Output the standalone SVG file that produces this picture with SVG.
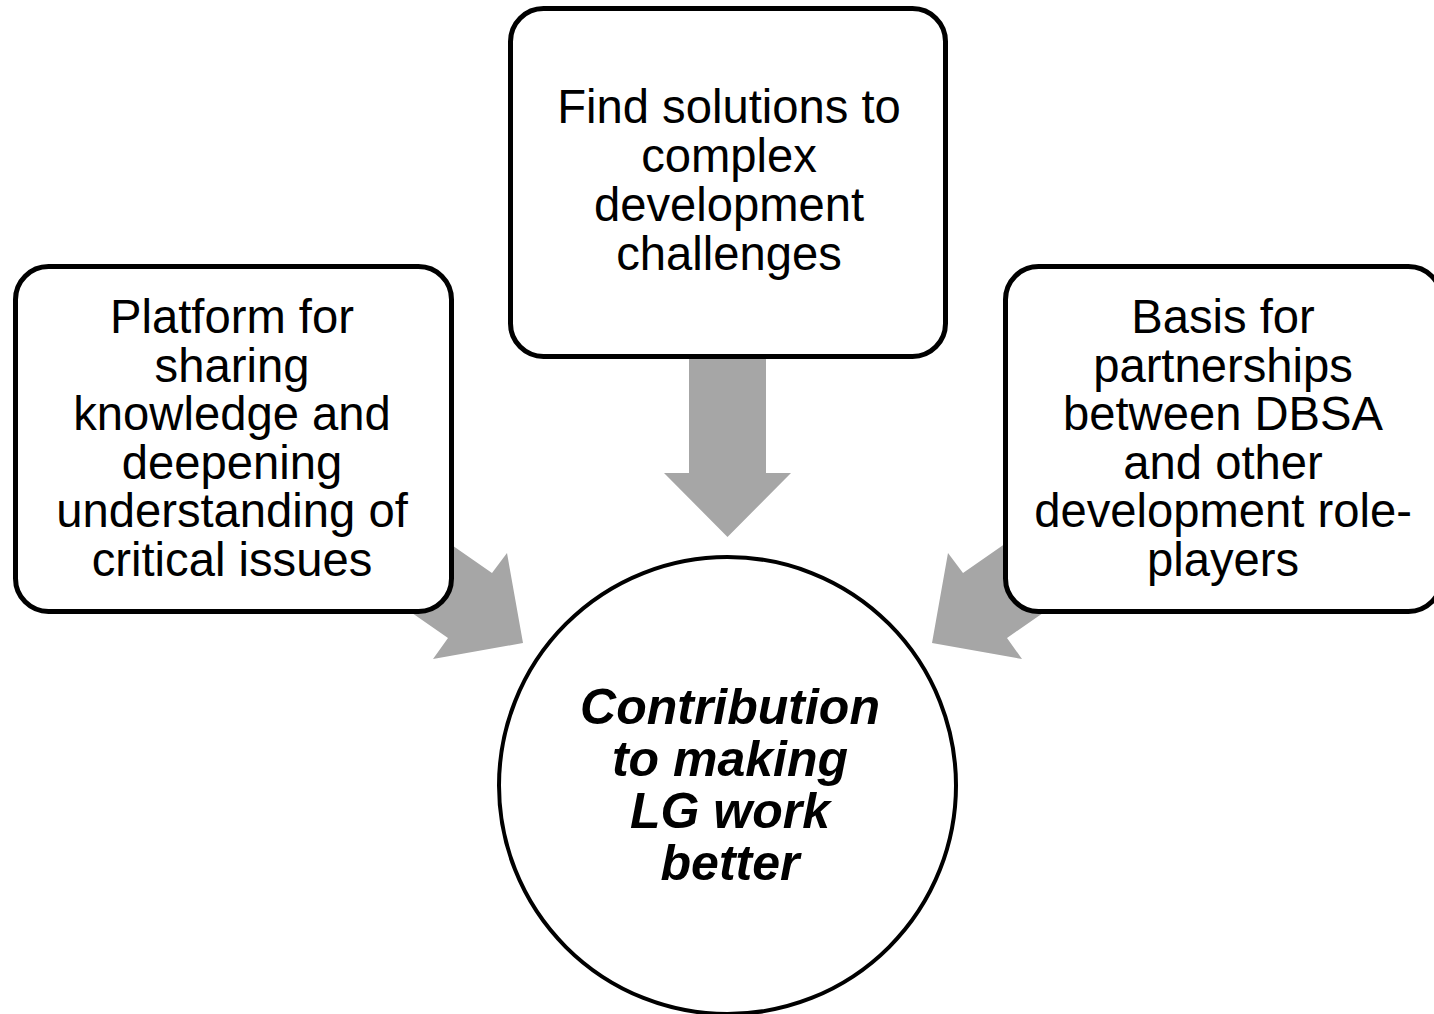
<svg xmlns="http://www.w3.org/2000/svg" width="1434" height="1014" viewBox="0 0 1434 1014">
  <style>
    .box { fill: #ffffff; stroke: #000000; stroke-width: 5; }
    .hub { fill: #ffffff; stroke: #000000; stroke-width: 4; }
    .arrow { fill: #a6a6a6; stroke: none; }
    .label { font-family: "Liberation Sans", Arial, sans-serif; font-size: 47.2px; fill: #000000; text-anchor: middle; }
    .hub-label { font-family: "Liberation Sans", Arial, sans-serif; font-size: 50px; font-weight: bold; font-style: italic; fill: #000000; text-anchor: middle; }
  </style>
  <rect width="1434" height="1014" fill="#ffffff"/>

  <!-- block arrows pointing into the central circle -->
  <g id="connectors">
    <polygon class="arrow" points="689,340 766,340 766,473 791,473 727.5,537 664,473 689,473"/>
    <polygon class="arrow" points="410,516 492,573 507,553 523,643 433,659 448,638 366,581"/>
    <polygon class="arrow" points="1045,516 963,573 948,553 932,643 1022,659 1007,638 1089,581"/>
  </g>

  <g id="node-solutions">
    <rect class="box" x="510.5" y="8.5" width="435" height="348" rx="33" ry="33"/>
    <text class="label" x="729" y="123">Find solutions to</text>
    <text class="label" x="729" y="172">complex</text>
    <text class="label" x="729" y="221">development</text>
    <text class="label" x="729" y="270">challenges</text>
  </g>

  <g id="node-platform">
    <rect class="box" x="15.5" y="266.5" width="436" height="345" rx="33" ry="33"/>
    <text class="label" x="232" y="333">Platform for</text>
    <text class="label" x="232" y="381.5">sharing</text>
    <text class="label" x="232" y="430">knowledge and</text>
    <text class="label" x="232" y="478.5">deepening</text>
    <text class="label" x="232" y="527">understanding of</text>
    <text class="label" x="232" y="575.5">critical issues</text>
  </g>

  <g id="node-partnerships">
    <rect class="box" x="1005.5" y="266.5" width="436" height="345" rx="33" ry="33"/>
    <text class="label" x="1223" y="333">Basis for</text>
    <text class="label" x="1223" y="381.5">partnerships</text>
    <text class="label" x="1223" y="430">between DBSA</text>
    <text class="label" x="1223" y="478.5">and other</text>
    <text class="label" x="1223" y="527">development role-</text>
    <text class="label" x="1223" y="575.5">players</text>
  </g>

  <g id="node-contribution">
    <circle class="hub" cx="727.5" cy="785.5" r="228.5"/>
    <text class="hub-label" x="730" y="724">Contribution</text>
    <text class="hub-label" x="730" y="776">to making</text>
    <text class="hub-label" x="730" y="828">LG work</text>
    <text class="hub-label" x="730" y="880">better</text>
  </g>
</svg>
